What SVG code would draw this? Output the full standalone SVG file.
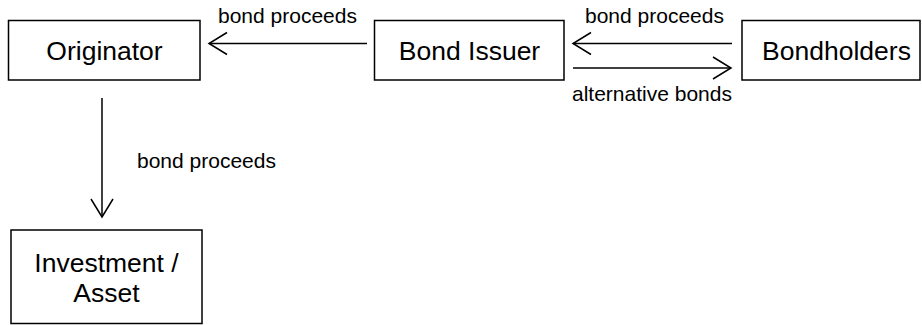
<svg xmlns="http://www.w3.org/2000/svg" width="922" height="325" viewBox="0 0 922 325">
  <style>
    .box { fill: #ffffff; stroke: #000000; stroke-width: 1.5; }
    .name { font-family: "Liberation Sans", Arial, sans-serif; font-size: 26.5px; fill: #000000; text-anchor: middle; }
    .label { font-family: "Liberation Sans", Arial, sans-serif; font-size: 21px; fill: #000000; }
    .flow { stroke: #000000; stroke-width: 1.5; fill: none; marker-end: url(#head); }
  </style>
  <defs>
    <marker id="head" markerUnits="userSpaceOnUse" markerWidth="24" markerHeight="26" viewBox="-20 -13 24 26" refX="0" refY="0" orient="auto">
      <path d="M-18,-11 L0,0 L-18,11" fill="none" stroke="#000000" stroke-width="1.5"/>
    </marker>
  </defs>
  <rect width="922" height="325" fill="#ffffff"/>

  <g id="originator">
    <rect class="box" x="8.5" y="20.5" width="191.5" height="59.5"/>
    <text class="name" x="104.5" y="60">Originator</text>
  </g>
  <g id="bond-issuer">
    <rect class="box" x="374.5" y="20.5" width="189.5" height="59.5"/>
    <text class="name" x="469.5" y="60">Bond Issuer</text>
  </g>
  <g id="bondholders">
    <rect class="box" x="742" y="20.5" width="178" height="59.5"/>
    <text class="name" x="836.5" y="60">Bondholders</text>
  </g>
  <g id="investment-asset">
    <rect class="box" x="11" y="230" width="191" height="93.5"/>
    <text class="name" x="106.5" y="272">Investment /</text>
    <text class="name" x="106.5" y="302">Asset</text>
  </g>

  <g id="connectors">
    <line class="flow" x1="367" y1="43.5" x2="209" y2="43.5"/>
    <line class="flow" x1="732" y1="43.5" x2="573" y2="43.5"/>
    <line class="flow" x1="573" y1="68" x2="731" y2="68"/>
    <line class="flow" x1="102" y1="98" x2="102" y2="217"/>
    <text class="label" x="218" y="23">bond proceeds</text>
    <text class="label" x="585" y="23">bond proceeds</text>
    <text class="label" x="572" y="101">alternative bonds</text>
    <text class="label" x="137" y="168">bond proceeds</text>
  </g>
</svg>
